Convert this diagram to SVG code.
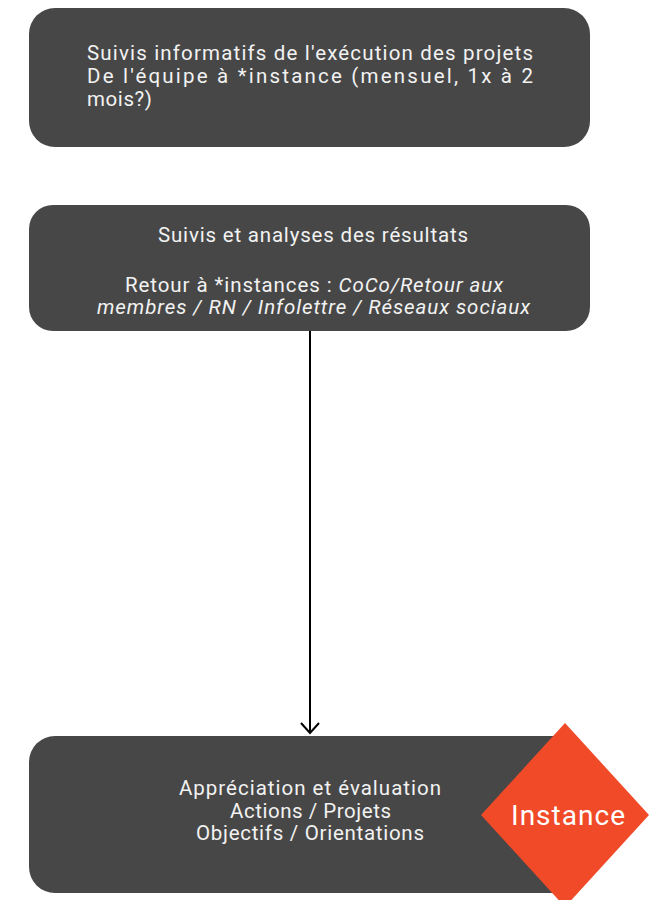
<svg xmlns="http://www.w3.org/2000/svg" width="650" height="900" viewBox="0 0 650 900">
<style>
.box{fill:#474747}
.t{font-family:Roboto,"Liberation Sans",sans-serif;font-size:20.5px;fill:#f2f2f2}
.i{font-style:italic}
.conn{stroke:#000;stroke-width:2;fill:none}
</style>
<rect width="650" height="900" fill="#fff"/>
<g id="node1">
<rect class="box" x="29" y="8" width="561" height="139" rx="26"/>
<text class="t" x="87" y="60" textLength="446" lengthAdjust="spacing">Suivis informatifs de l'exécution des projets</text>
<text class="t" x="87" y="83" textLength="446" lengthAdjust="spacing">De l'équipe à *instance (mensuel, 1x à 2</text>
<text class="t" x="87" y="106" textLength="65" lengthAdjust="spacing">mois?)</text>
</g>
<g id="node2">
<rect class="box" x="29" y="205" width="561" height="126" rx="24"/>
<text class="t" x="158" y="242" textLength="310" lengthAdjust="spacing">Suivis et analyses des résultats</text>
<text class="t" x="125" y="292" textLength="378" lengthAdjust="spacing">Retour à *instances : <tspan class="i">CoCo/Retour aux</tspan></text>
<text class="t i" x="97" y="314" textLength="433" lengthAdjust="spacing">membres / RN / Infolettre / Réseaux sociaux</text>
</g>
<g id="node3">
<rect class="box" x="29" y="736" width="561" height="157" rx="26"/>
<text class="t" x="179" y="795" textLength="262" lengthAdjust="spacing">Appréciation et évaluation</text>
<text class="t" x="230" y="818" textLength="161" lengthAdjust="spacing">Actions / Projets</text>
<text class="t" x="196" y="840" textLength="228" lengthAdjust="spacing">Objectifs / Orientations</text>
</g>
<g id="instance">
<polygon points="565,723 649,815 565,907 481,815" fill="#f04a28"/>
<text class="t" x="511" y="825" textLength="114" lengthAdjust="spacing" style="font-size:28px;fill:#fff">Instance</text>
</g>
<g id="connectors">
<line class="conn" x1="310" y1="331" x2="310" y2="733"/>
<polyline class="conn" points="301,723 310,733 319,723"/>
</g>
</svg>
